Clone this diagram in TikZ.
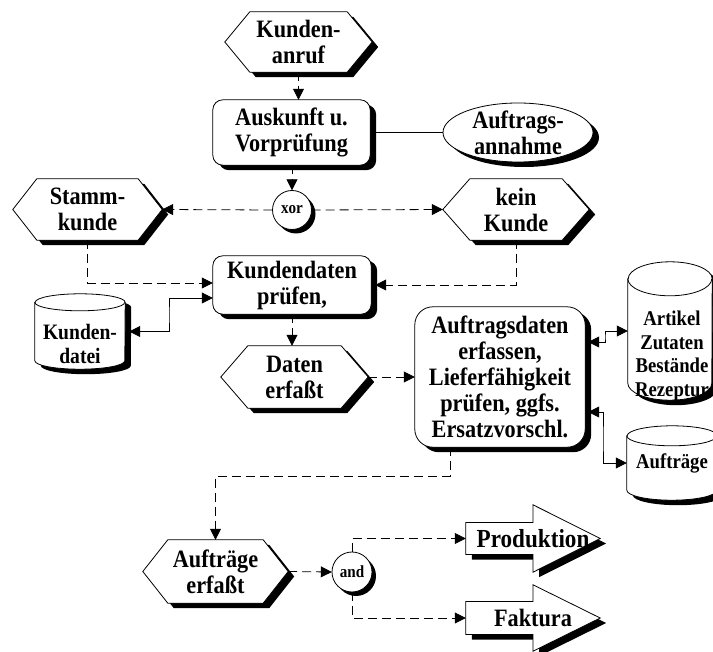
\documentclass[tikz,border=0pt]{standalone}
\usepackage{fontspec}
\setmainfont{Liberation Serif}[FakeStretch=0.89]
\usetikzlibrary{arrows.meta}
\pgfdeclarelayer{bg}
\pgfsetlayers{bg,main}

% outlines built from the anchors of an (invisible) rectangular node
\newcommand\hexpath[2]{(#1.west) -- ([xshift=#2]#1.north west) -- ([xshift=-#2]#1.north east) -- (#1.east) -- ([xshift=-#2]#1.south east) -- ([xshift=#2]#1.south west) -- cycle}
\newcommand\cylpath[3]{([yshift=-#3]#1.north west) -- ([yshift=#3]#1.south west) arc[start angle=180, end angle=360, x radius=#2, y radius=#3] -- ([yshift=-#3]#1.north east) arc[start angle=0, end angle=180, x radius=#2, y radius=#3] -- cycle}
\newcommand\cyltop[3]{([yshift=-#3]#1.north west) arc[start angle=180, end angle=360, x radius=#2, y radius=#3]}
\newcommand\arrowpath[2]{([yshift=#2]#1.west) -- ([yshift=#2]#1.center) -- (#1.north) -- (#1.east) -- (#1.south) -- ([yshift=-#2]#1.center) -- ([yshift=-#2]#1.west) -- cycle}

\tikzset{
  txt/.style={font=\fontsize{25}{26}\selectfont\bfseries, align=center, inner sep=0pt},
  dbtxt/.style={font=\fontsize{21}{23.5}\selectfont\bfseries, align=center, inner sep=0pt},
  optxt/.style={font=\fontsize{17}{17}\selectfont\bfseries, align=center, inner sep=0pt},
  shadowfill/.style={fill=black, transform canvas={shift={(6pt,-5pt)}}},
  shadowsmall/.style={fill=black, transform canvas={shift={(4pt,-4pt)}}},
  shapebody/.style={fill=white, draw=black, line width=0.8pt},
  flowln/.style={line width=0.8pt, dash pattern=on 9pt off 5pt},
  solidln/.style={line width=0.8pt},
  arrowhd/.style={-{Triangle[length=11pt,width=11pt]}},
  bothhd/.style={{Triangle[length=11pt,width=11pt]}-{Triangle[length=11pt,width=11pt]}},
}

\begin{document}
\begin{tikzpicture}[x=1pt,y=1pt]
\useasboundingbox (0,0) rectangle (713,-652);

% ---- nodes ----
\node[txt, minimum width=147pt, minimum height=60pt] (anruf) at (298.5,-42) {Kunden-\\anruf};
\node[txt, minimum width=157pt, minimum height=65pt] (ausk) at (291.5,-132.5) {Auskunft u.\\Vorprüfung};
\node[txt, minimum width=150pt, minimum height=59pt] (annahme) at (518,-132.5) {Auftrags-\\annahme};
\node[optxt, minimum width=39pt, minimum height=39pt] (xorj) at (292,-210) {xor};
\node[txt, minimum width=149pt, minimum height=61pt] (stamm) at (87.5,-209.5) {Stamm-\\kunde};
\node[txt, minimum width=146pt, minimum height=61pt] (kein) at (516,-209.5) {kein\\Kunde};
\node[txt, minimum width=158pt, minimum height=58pt] (kdp) at (292,-285) {Kundendaten\\prüfen,};
\node[minimum width=90pt, minimum height=75pt, inner sep=0pt] (kdatei) at (80,-331.5) {};
\node[dbtxt, font=\fontsize{22}{24}\selectfont\bfseries] (kdateiT) at (80,-344) {Kunden-\\datei};
\node[txt, minimum width=147pt, minimum height=62pt] (daten) at (294.5,-377) {Daten\\erfaßt};
\node[txt, minimum width=170pt, minimum height=140pt] (aufd) at (500,-377) {Auftragsdaten\\erfassen,\\Lieferfähigkeit\\prüfen, ggfs.\\Ersatzvorschl.};
\node[minimum width=84pt, minimum height=138pt, inner sep=0pt] (artikel) at (670,-331) {};
\node[dbtxt] (artikelT) at (672,-356) {Artikel\\Zutaten\\Bestände\\Rezeptur};
\node[dbtxt, minimum width=90pt, minimum height=74pt] (auftr) at (672,-463) {Aufträge};
\node[txt, minimum width=145pt, minimum height=63pt] (auferf) at (215.5,-571.5) {Aufträge\\erfaßt};
\node[optxt, minimum width=40pt, minimum height=40pt] (andj) at (352,-572) {and};
\node[txt, font=\fontsize{26}{26}\selectfont\bfseries, minimum width=134pt, minimum height=67pt] (prod) at (533,-538.5) {Produktion};
\node[txt, minimum width=134pt, minimum height=66pt] (fakt) at (533,-618) {Faktura};

% ---- shapes with shadows ----
\begin{pgfonlayer}{bg}
  \fill[shadowfill] \hexpath{anruf}{25pt};
  \path[shapebody] \hexpath{anruf}{25pt};
  \fill[shadowfill, rounded corners=10pt] (ausk.north west) rectangle (ausk.south east);
  \path[shapebody, rounded corners=10pt] (ausk.north west) rectangle (ausk.south east);
  \fill[shadowfill] (annahme.center) ellipse [x radius=75pt, y radius=29.5pt];
  \path[shapebody] (annahme.center) ellipse [x radius=75pt, y radius=29.5pt];
  \fill[shadowsmall] (xorj.center) circle [radius=19.5pt];
  \path[shapebody] (xorj.center) circle [radius=19.5pt];
  \fill[shadowfill] \hexpath{stamm}{24pt};
  \path[shapebody] \hexpath{stamm}{24pt};
  \fill[shadowfill] \hexpath{kein}{27pt};
  \path[shapebody] \hexpath{kein}{27pt};
  \fill[shadowfill, rounded corners=10pt] (kdp.north west) rectangle (kdp.south east);
  \path[shapebody, rounded corners=10pt] (kdp.north west) rectangle (kdp.south east);
  \fill[shadowfill] \cylpath{kdatei}{45pt}{8.5pt};
  \path[shapebody] \cylpath{kdatei}{45pt}{8.5pt};
  \draw[line width=0.8pt] \cyltop{kdatei}{45pt}{8.5pt};
  \fill[shadowfill] \hexpath{daten}{27pt};
  \path[shapebody] \hexpath{daten}{27pt};
  \fill[shadowfill, rounded corners=18pt] (aufd.north west) rectangle (aufd.south east);
  \path[shapebody, rounded corners=18pt] (aufd.north west) rectangle (aufd.south east);
  \fill[shadowfill] \cylpath{artikel}{42pt}{17pt};
  \path[shapebody] \cylpath{artikel}{42pt}{17pt};
  \draw[line width=0.8pt] \cyltop{artikel}{42pt}{17pt};
  \fill[shadowfill] \cylpath{auftr}{45pt}{10pt};
  \path[shapebody] \cylpath{auftr}{45pt}{10pt};
  \draw[line width=0.8pt] \cyltop{auftr}{45pt}{10pt};
  \fill[shadowfill] \hexpath{auferf}{25pt};
  \path[shapebody] \hexpath{auferf}{25pt};
  \fill[shadowsmall] (andj.center) circle [radius=20pt];
  \path[shapebody] (andj.center) circle [radius=20pt];
  \fill[shadowfill] \arrowpath{prod}{16pt};
  \path[shapebody] \arrowpath{prod}{16pt};
  \fill[shadowfill] \arrowpath{fakt}{16.5pt};
  \path[shapebody] \arrowpath{fakt}{16.5pt};
\end{pgfonlayer}

% ---- connectors ----
\coordinate (kbend) at (169,-315);
\coordinate (abend) at (605,-337);
\coordinate (bbend) at (603,-440);
\coordinate (jn) at (450,-476);

\draw[flowln, arrowhd] (anruf.south) -- (anruf.south |- ausk.north);
\draw[flowln, arrowhd] (ausk.south -| xorj.north) -- (xorj.north);
\draw[solidln] (ausk.east) -- (annahme.west);
\draw[flowln, arrowhd] (xorj.west) -- (stamm.east);
\draw[flowln, arrowhd] (xorj.east) -- (kein.west);
\draw[flowln, arrowhd] (stamm.south) |- ([yshift=2pt]kdp.west);
\draw[flowln, arrowhd] (kein.south) |- ([xshift=4pt]kdp.east);
\draw[solidln, bothhd] ([yshift=-13pt]kdp.west) -| (kbend) |- ([xshift=4pt]kdatei.east);
\draw[flowln, arrowhd] (kdp.south) -- (kdp.south |- daten.north);
\draw[flowln, arrowhd] (daten.east) -- (aufd.west);
\draw[solidln, bothhd] ([xshift=3pt,yshift=35pt]aufd.east) -| (abend) |- (artikel.west);
\draw[solidln, bothhd] ([xshift=3pt,yshift=-35pt]aufd.east) -| (bbend) |- (auftr.west);
\draw[flowln, arrowhd] ([xshift=-50pt]aufd.south) -- (jn) -| (auferf.north);
\draw[flowln, arrowhd] (auferf.east) -- (andj.west);
\draw[flowln, arrowhd] (andj.north) |- (prod.west);
\draw[flowln, arrowhd] (andj.south) |- (fakt.west);
\end{tikzpicture}
\end{document}
